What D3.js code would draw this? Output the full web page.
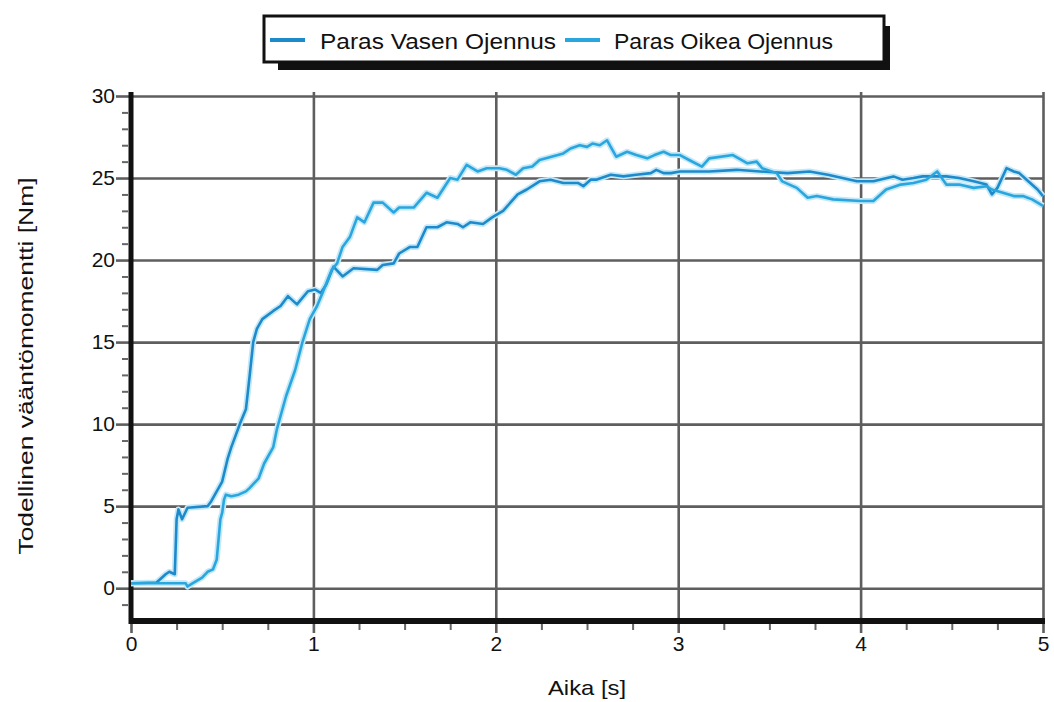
<!DOCTYPE html>
<html>
<head>
<meta charset="utf-8">
<script src="https://cdn.jsdelivr.net/npm/d3@7"></script>
<style>
  body { margin: 0; background: #fff; }
  text { font-family: "Liberation Sans", Arial, sans-serif; fill: #111; }
</style>
</head>
<body>
<div class="chart"></div>
<script>
// series data
const seriesNames = ["Paras Vasen Ojennus", "Paras Oikea Ojennus"]

const vasenTime = [0, 0.14, 0.16, 0.19, 0.21, 0.24, 0.25, 0.26, 0.28, 0.31, 0.42, 0.44, 0.50, 0.53, 0.55, 0.60, 0.63, 0.65, 0.67, 0.69, 0.72, 0.78, 0.82, 0.86, 0.91, 0.97, 1.01, 1.04, 1.07, 1.11, 1.16, 1.22, 1.35, 1.38, 1.44, 1.47, 1.53, 1.57, 1.62, 1.68, 1.73, 1.79, 1.82, 1.86, 1.93, 1.98, 2.04, 2.12, 2.17, 2.24, 2.30, 2.37, 2.45, 2.48, 2.52, 2.55, 2.63, 2.70, 2.77, 2.85, 2.88, 2.92, 2.96, 3.01, 3.17, 3.32, 3.45, 3.60, 3.72, 3.82, 3.98, 4.07, 4.18, 4.23, 4.29, 4.34, 4.47, 4.54, 4.62, 4.69, 4.72, 4.75, 4.80, 4.84, 4.87, 4.91, 4.97, 5.0]
const vasenTorque = [0.3, 0.35, 0.55, 0.85, 1.0, 0.85, 4.2, 4.8, 4.2, 4.9, 5.0, 5.3, 6.5, 7.9, 8.6, 10.1, 10.9, 12.9, 15.0, 15.8, 16.4, 16.9, 17.2, 17.8, 17.3, 18.1, 18.2, 18.0, 18.5, 19.6, 19.0, 19.5, 19.4, 19.7, 19.8, 20.4, 20.8, 20.8, 22.0, 22.0, 22.3, 22.2, 22.0, 22.3, 22.2, 22.6, 23.0, 24.0, 24.3, 24.8, 24.9, 24.7, 24.7, 24.5, 24.9, 24.9, 25.2, 25.1, 25.2, 25.3, 25.5, 25.3, 25.3, 25.4, 25.4, 25.5, 25.4, 25.3, 25.4, 25.2, 24.8, 24.8, 25.1, 24.9, 25.0, 25.1, 25.1, 25.0, 24.8, 24.6, 24.0, 24.4, 25.6, 25.4, 25.3, 24.9, 24.3, 23.9]

const oikeaTime = [0, 0.30, 0.31, 0.33, 0.39, 0.42, 0.45, 0.47, 0.49, 0.50, 0.51, 0.52, 0.55, 0.59, 0.63, 0.65, 0.70, 0.73, 0.78, 0.80, 0.85, 0.90, 0.94, 0.98, 1.02, 1.05, 1.10, 1.13, 1.16, 1.20, 1.24, 1.28, 1.33, 1.38, 1.44, 1.47, 1.55, 1.62, 1.68, 1.75, 1.79, 1.84, 1.90, 1.95, 2.02, 2.06, 2.11, 2.15, 2.20, 2.24, 2.34, 2.37, 2.41, 2.46, 2.50, 2.53, 2.57, 2.61, 2.66, 2.72, 2.77, 2.83, 2.87, 2.92, 2.96, 3.01, 3.06, 3.13, 3.17, 3.30, 3.38, 3.43, 3.46, 3.54, 3.57, 3.65, 3.71, 3.76, 3.85, 4.00, 4.07, 4.14, 4.22, 4.29, 4.36, 4.42, 4.47, 4.54, 4.62, 4.69, 4.72, 4.78, 4.84, 4.89, 4.94, 5.0]
const oikeaTorque = [0.3, 0.3, 0.1, 0.25, 0.65, 1.0, 1.15, 1.75, 4.2, 4.6, 5.4, 5.7, 5.6, 5.7, 5.9, 6.1, 6.7, 7.6, 8.6, 9.7, 11.7, 13.3, 15.0, 16.4, 17.2, 18.0, 19.4, 19.8, 20.8, 21.4, 22.6, 22.3, 23.5, 23.5, 22.9, 23.2, 23.2, 24.1, 23.8, 25.0, 24.9, 25.8, 25.4, 25.6, 25.6, 25.5, 25.2, 25.6, 25.7, 26.1, 26.4, 26.5, 26.8, 27.0, 26.9, 27.1, 27.0, 27.3, 26.3, 26.6, 26.4, 26.2, 26.4, 26.6, 26.4, 26.4, 26.1, 25.7, 26.2, 26.4, 25.9, 26.0, 25.6, 25.3, 24.8, 24.4, 23.8, 23.9, 23.7, 23.6, 23.6, 24.3, 24.6, 24.7, 24.9, 25.4, 24.6, 24.6, 24.4, 24.5, 24.3, 24.1, 23.9, 23.9, 23.7, 23.3]

const xTicks = [0, 1, 2, 3, 4, 5]
const yTicks = [0, 5, 10, 15, 20, 25, 30]

// set the dimensions of the page and plot
const w = 1054
const h = 702
const mLeft = 131, mRight = 1043, mTop = 96, mBottom = 621

const svg = d3.select(".chart")
  .append("svg")
    .attr("width", w)
    .attr("height", h)

svg.append("rect").attr("width", w).attr("height", h).attr("fill", "#fff")

const x = d3.scaleLinear().domain([0, 5]).range([mLeft, mRight])
const y = d3.scaleLinear().domain([-2, 30]).range([mBottom, mTop])

// grid lines
svg.append("g")
    .attr("transform", `translate(${mLeft},0)`)
    .call(d3.axisLeft(y).tickValues(yTicks).tickSize(-(mRight - mLeft)).tickFormat(""))
    .call(g => g.select(".domain").remove())
    .call(g => g.selectAll("line").attr("stroke", "#5e5e5e").attr("stroke-width", 2.6))

svg.append("g")
    .attr("transform", `translate(0,${mBottom})`)
    .call(d3.axisBottom(x).tickValues(xTicks.slice(1)).tickSize(-(mBottom - mTop + 4)).tickFormat(""))
    .call(g => g.select(".domain").remove())
    .call(g => g.selectAll("line").attr("stroke", "#5e5e5e").attr("stroke-width", 2.6))

// minor ticks
svg.append("g")
    .attr("transform", `translate(${mLeft - 3},0)`)
    .call(d3.axisLeft(y).tickValues(d3.range(-1, 30, 1).filter(v => v % 5 !== 0)).tickSize(6).tickFormat(""))
    .call(g => g.select(".domain").remove())
    .call(g => g.selectAll("line").attr("stroke", "#666").attr("stroke-width", 2))

svg.append("g")
    .attr("transform", `translate(0,${mBottom + 3})`)
    .call(d3.axisBottom(x).tickValues(d3.range(0.25, 5, 0.25).filter(v => v % 1 !== 0)).tickSize(6).tickFormat(""))
    .call(g => g.select(".domain").remove())
    .call(g => g.selectAll("line").attr("stroke", "#666").attr("stroke-width", 2))

// major axes with labels
svg.append("g")
    .attr("transform", `translate(${mLeft},0)`)
    .call(d3.axisLeft(y).tickValues(yTicks).tickSize(15).tickPadding(1).tickFormat(d3.format("d")))
    .call(g => g.select(".domain").remove())
    .call(g => g.selectAll("line").attr("stroke", "#5e5e5e").attr("stroke-width", 2.6))
    .call(g => g.selectAll("text").attr("font-size", 21).attr("fill", "#111")
      .attr("font-family", "Liberation Sans, Arial, sans-serif"))

svg.append("g")
    .attr("transform", `translate(0,${mBottom})`)
    .call(d3.axisBottom(x).tickValues(xTicks).tickSize(12).tickPadding(3).tickFormat(d3.format("d")))
    .call(g => g.select(".domain").remove())
    .call(g => g.selectAll("line").attr("stroke", "#5e5e5e").attr("stroke-width", 2.6))
    .call(g => g.selectAll("text").attr("font-size", 21).attr("fill", "#111")
      .attr("font-family", "Liberation Sans, Arial, sans-serif"))

// thick black axis lines
svg.append("line")
    .attr("x1", mLeft).attr("x2", mLeft).attr("y1", mTop - 4).attr("y2", mBottom + 3)
    .attr("stroke", "#111").attr("stroke-width", 5)
svg.append("line")
    .attr("x1", mLeft - 2).attr("x2", mRight + 2).attr("y1", mBottom).attr("y2", mBottom)
    .attr("stroke", "#111").attr("stroke-width", 6)

// lines
const series = [
  { name: seriesNames[0], t: vasenTime, v: vasenTorque, color: "#1d8acb" },
  { name: seriesNames[1], t: oikeaTime, v: oikeaTorque, color: "#2aa6df" }
]

const line = d3.line()
    .x(d => x(d[0]))
    .y(d => y(d[1]))

series.forEach(s => {
  const pts = s.t.map((t, i) => [t, s.v[i]])
  svg.append("path")
      .datum(pts)
      .attr("fill", "none")
      .attr("stroke", "#c4e8f8")
      .attr("stroke-width", 6)
      .attr("stroke-linejoin", "round")
      .attr("d", line)
  s.pts = pts
})
series.forEach(s => {
  svg.append("path")
      .datum(s.pts)
      .attr("fill", "none")
      .attr("stroke", s.color)
      .attr("stroke-width", 2.6)
      .attr("stroke-linejoin", "round")
      .attr("d", line)
})

// axis titles
svg.append("text")
    .attr("x", 587).attr("y", 695)
    .attr("text-anchor", "middle")
    .attr("font-size", 21)
    .attr("textLength", 78)
    .attr("lengthAdjust", "spacingAndGlyphs")
    .text("Aika [s]")

svg.append("text")
    .attr("transform", "translate(33,366) rotate(-90)")
    .attr("text-anchor", "middle")
    .attr("font-size", 21)
    .attr("textLength", 377)
    .attr("lengthAdjust", "spacingAndGlyphs")
    .text("Todellinen vääntömomentti [Nm]")

// legend with drop shadow
const legend = svg.append("g")
legend.append("rect")
    .attr("x", 278).attr("y", 26).attr("width", 612).attr("height", 44)
    .attr("fill", "#111")
legend.append("rect")
    .attr("x", 264).attr("y", 16).attr("width", 620).attr("height", 46)
    .attr("fill", "#fff").attr("stroke", "#111").attr("stroke-width", 3)

const legendX = [[270, 320, 236], [565, 614, 219]]
series.forEach((s, i) => {
  legend.append("line")
      .attr("x1", legendX[i][0]).attr("x2", legendX[i][0] + 35)
      .attr("y1", 40).attr("y2", 40)
      .attr("stroke", s.color).attr("stroke-width", 4)
  legend.append("text")
      .attr("x", legendX[i][1]).attr("y", 49)
      .attr("font-size", 22)
      .attr("textLength", legendX[i][2])
      .attr("lengthAdjust", "spacingAndGlyphs")
      .text(s.name)
})
</script>
</body>
</html>
